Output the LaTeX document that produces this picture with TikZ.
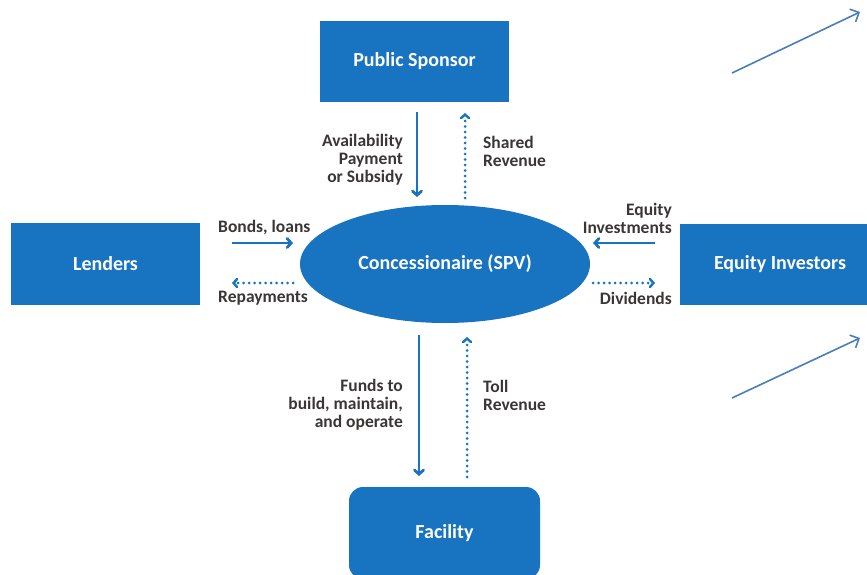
\documentclass[tikz,border=0pt]{standalone}
\usepackage{fontspec}
\setmainfont{Carlito}
\usetikzlibrary{shapes.geometric,arrows.meta}
\definecolor{flowblue}{HTML}{1873C0}
\definecolor{labelgray}{HTML}{3A3636}
\definecolor{pointerblue}{HTML}{4A7EBB}
\begin{document}
\begin{tikzpicture}[x=1pt,y=-1pt,
  party/.style={fill=flowblue,draw=none,text=white,font=\bfseries\fontsize{20}{22}\selectfont,inner sep=0pt},
  flowlabel/.style={text=labelgray,font=\bfseries\fontsize{17.5}{18}\selectfont,inner sep=0pt},
  money/.style={draw=flowblue,line width=2.8pt,-{Straight Barb[length=4pt,width=9pt,line cap=round]}},
  backflow/.style={draw=flowblue,line width=3pt,line cap=round,dash pattern=on 0pt off 5.5pt,-{Straight Barb[length=3.5pt,width=8pt,line cap=round,line width=2.4pt]}},
  pointer/.style={draw=pointerblue,line width=1.6pt,-{Straight Barb[length=7pt,width=14pt]}}
]
\useasboundingbox (0,0) rectangle (867,575);
\clip (0,0) rectangle (867,575);

% parties
\node[party,minimum width=189pt,minimum height=81pt] (ps) at (414.5,61.5) {Public Sponsor};
\node[party,minimum width=189pt,minimum height=82pt] (lenders) at (105.5,264) {Lenders};
\node[party,minimum width=200pt,minimum height=81pt] (eq) at (780,264.5) {Equity Investors};
\node[party,minimum width=191pt,minimum height=92pt,rounded corners=14pt] (fac) at (444.5,533) {Facility};
\node[party,ellipse,minimum width=290pt,minimum height=118pt] (spv) at (445,264) {Concessionaire (SPV)};

% arrow end points
\coordinate (a1) at (417,112);   \coordinate (a2) at (417,197);
\coordinate (s1) at (465,198);   \coordinate (s2) at (465,113);
\coordinate (b1) at (232,243);   \coordinate (b2) at (293,243);
\coordinate (r1) at (293,283);   \coordinate (r2) at (232,283);
\coordinate (e1) at (655,243);   \coordinate (e2) at (593,243);
\coordinate (d1) at (593,283);   \coordinate (d2) at (655,283);
\coordinate (f1) at (419,335);   \coordinate (f2) at (419,476);
\coordinate (t1) at (467,477);   \coordinate (t2) at (467,337);
\coordinate (p1) at (732,73);    \coordinate (p2) at (860,12);
\coordinate (q1) at (732,398);   \coordinate (q2) at (860,338);

% flows
\draw[money] (a1) -- (a2);
\draw[backflow] (s1) -- (s2);
\draw[money] (b1) -- (b2);
\draw[backflow] (r1) -- (r2);
\draw[money] (e1) -- (e2);
\draw[backflow] (d1) -- (d2);
\draw[money] (f1) -- (f2);
\draw[backflow] (t1) -- (t2);

% pointers
\draw[pointer] (p1) -- (p2);
\draw[pointer] (q1) -- (q2);

% labels
\node[flowlabel,align=right,anchor=east] (lav) at (403,160) {Availability\\Payment\\or Subsidy};
\node[flowlabel,align=left,anchor=west] (lsh) at (483,151.5) {Shared\\Revenue};
\node[flowlabel,anchor=west] (lbo) at (218,228) {Bonds, loans};
\node[flowlabel,anchor=west] (lre) at (218,298) {Repayments};
\node[flowlabel,align=right,anchor=east] (lei) at (672,218) {Equity\\Investments};
\node[flowlabel,anchor=east] (ldi) at (672,298) {Dividends};
\node[flowlabel,align=right,anchor=east] (lfu) at (403,404.5) {Funds to\\build, maintain,\\and operate};
\node[flowlabel,align=left,anchor=west] (lto) at (483,395.5) {Toll\\Revenue};
\end{tikzpicture}
\end{document}
